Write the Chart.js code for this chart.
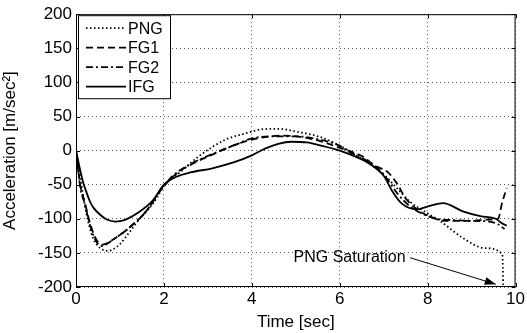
<!DOCTYPE html>
<html>
<head>
<meta charset="utf-8">
<script src="https://cdn.jsdelivr.net/npm/chart.js@4.4.1/dist/chart.umd.min.js"></script>
<style>
  html, body { margin: 0; background: #fff; }
</style>
</head>
<body>
<canvas id="accChart" width="527" height="333"></canvas>
<script>
/* ── Data ───────────────────────────────────────────────────── */
const tPNG = [0, 0.1, 0.2, 0.3, 0.4, 0.5, 0.6, 0.7, 0.8, 1.0, 1.2, 1.45, 1.65, 1.85, 2.0, 2.4, 2.8, 3.4, 3.9, 4.2, 4.6, 5.0, 5.5, 5.85, 6.15, 6.5, 7.0, 7.3, 7.6, 7.9, 8.3, 8.8, 9.3, 9.7, 9.72];
const png  = [0, -40, -80, -110, -130, -140, -145, -147, -146, -137, -121, -100, -86, -68, -52, -30, -8, 16, 26, 31, 32, 28, 21, 12, 2, -12, -35, -55, -75, -88, -104, -128, -143, -152, -200];

const tFG1 = [0, 0.1, 0.2, 0.3, 0.4, 0.5, 0.6, 0.7, 0.9, 1.1, 1.3, 1.5, 1.7, 1.9, 2.0, 2.3, 2.6, 3.1, 3.6, 4.0, 4.7, 5.0, 5.5, 6.0, 6.5, 6.8, 7.1, 7.3, 7.5, 7.8, 8.1, 8.4, 9.0, 9.4, 9.6, 9.7, 9.8];
const fg1  = [0, -52, -76, -102, -122, -134, -138, -136, -128, -119, -108, -96, -80, -60, -52, -33, -21, -6, 8, 16, 22, 21, 15, 4, -8, -22, -32, -48, -70, -88, -98, -103, -103, -101, -100, -75, -55];

const tFG2 = [0, 0.1, 0.2, 0.3, 0.4, 0.5, 0.6, 0.7, 0.9, 1.1, 1.3, 1.5, 1.7, 1.9, 2.0, 2.2, 2.6, 3.1, 3.65, 4.0, 4.6, 5.0, 5.55, 6.0, 6.25, 6.7, 7.0, 7.3, 7.6, 7.9, 8.2, 8.6, 9.0, 9.4, 9.6, 9.75];
const fg2  = [0, -55, -78, -105, -125, -137, -140, -137, -128, -119, -108, -96, -80, -60, -52, -37, -20, -5, 9, 18, 21, 21, 16, 7, -3, -18, -35, -62, -82, -93, -100, -102, -103, -104, -108, -115];

const tIFG = [0, 0.1, 0.16, 0.2, 0.32, 0.4, 0.55, 0.7, 0.9, 1.1, 1.39, 1.75, 2.0, 2.3, 2.6, 3.1, 3.6, 4.0, 4.3, 4.6, 4.9, 5.25, 5.6, 6.0, 6.25, 6.7, 7.0, 7.2, 7.4, 7.75, 8.05, 8.35, 8.8, 9.2, 9.55, 9.7, 9.8];
const ifg  = [0, -30, -46, -54, -75, -84, -94, -101, -104, -102, -92, -73, -50, -38, -32, -26, -17, -7, 3, 10, 13, 12, 7, 0, -6, -20, -37, -60, -77, -86, -81, -77, -89, -96, -100, -107, -110];

const xTicks = [0, 2, 4, 6, 8, 10];
const yTicks = [-200, -150, -100, -50, 0, 50, 100, 150, 200];

const FONT = '"Liberation Sans", Arial, sans-serif';

const pts = (ts, vs) => ts.map((t, i) => ({ x: t, y: vs[i] }));

/* ── Frame, inward ticks, legend, annotation ────────────────── */
const matlabLook = {
  id: 'matlabLook',
  afterDatasetsDraw(chart) {
    const { ctx, chartArea: a, scales: { x, y } } = chart;
    ctx.save();

    // frame
    ctx.strokeStyle = '#000';
    ctx.lineWidth = 1;
    ctx.setLineDash([]);
    ctx.strokeRect(a.left + 0.5, a.top + 0.5, a.right - a.left - 1, a.bottom - a.top - 1);

    // inward ticks
    ctx.beginPath();
    xTicks.forEach(v => {
      const px = Math.round(x.getPixelForValue(v)) + 0.5;
      ctx.moveTo(px, a.bottom); ctx.lineTo(px, a.bottom - 4);
      ctx.moveTo(px, a.top);    ctx.lineTo(px, a.top + 4);
    });
    yTicks.forEach(v => {
      const py = Math.round(y.getPixelForValue(v)) + 0.5;
      ctx.moveTo(a.left, py);  ctx.lineTo(a.left + 4, py);
      ctx.moveTo(a.right, py); ctx.lineTo(a.right - 4, py);
    });
    ctx.stroke();

    // annotation: "PNG Saturation" with arrow
    ctx.fillStyle = '#000';
    ctx.font = '16px ' + FONT;
    ctx.textBaseline = 'middle';
    ctx.textAlign = 'left';
    const tx = x.getPixelForValue(4.95), ty = y.getPixelForValue(-157);
    ctx.fillText('PNG Saturation', tx, ty);
    const x0 = x.getPixelForValue(7.6),  y0 = y.getPixelForValue(-157);
    const x1 = x.getPixelForValue(9.55), y1 = y.getPixelForValue(-196);
    ctx.lineWidth = 1;
    ctx.beginPath(); ctx.moveTo(x0, y0); ctx.lineTo(x1, y1); ctx.stroke();
    const ang = Math.atan2(y1 - y0, x1 - x0);
    ctx.beginPath();
    ctx.moveTo(x1, y1);
    ctx.lineTo(x1 - 11 * Math.cos(ang) + 4 * Math.sin(ang), y1 - 11 * Math.sin(ang) - 4 * Math.cos(ang));
    ctx.lineTo(x1 - 11 * Math.cos(ang) - 4 * Math.sin(ang), y1 - 11 * Math.sin(ang) + 4 * Math.cos(ang));
    ctx.closePath(); ctx.fill();

    // legend box
    const bx = a.left + 2, by = a.top + 1, bw = 92, bh = 83;
    ctx.fillStyle = '#fff';
    ctx.fillRect(bx, by, bw, bh);
    ctx.strokeStyle = '#000';
    ctx.strokeRect(bx + 0.5, by + 0.5, bw, bh);
    chart.data.datasets.forEach((ds, i) => {
      const ry = by + 13 + i * 19.5;
      ctx.strokeStyle = '#000';
      ctx.lineWidth = ds.borderWidth;
      ctx.setLineDash(ds.borderDash || []);
      ctx.beginPath(); ctx.moveTo(bx + 8, ry); ctx.lineTo(bx + 48, ry); ctx.stroke();
      ctx.setLineDash([]);
      ctx.fillStyle = '#000';
      ctx.fillText(ds.label, bx + 50, ry + 1);
    });

    ctx.restore();
  }
};

new Chart(document.getElementById('accChart'), {
  type: 'line',
  data: {
    datasets: [
      { label: 'PNG', data: pts(tPNG, png), borderDash: [1.5, 2.5] },
      { label: 'FG1', data: pts(tFG1, fg1), borderDash: [7, 4] },
      { label: 'FG2', data: pts(tFG2, fg2), borderDash: [7, 3, 2, 3] },
      { label: 'IFG', data: pts(tIFG, ifg), borderDash: [] },
    ].map(ds => ({
      ...ds,
      borderColor: '#000',
      borderWidth: 1.8,
      pointRadius: 0,
      tension: 0,
      cubicInterpolationMode: 'monotone',
      fill: false,
    })),
  },
  options: {
    responsive: false,
    animation: false,
    devicePixelRatio: 1,
    layout: { padding: { top: 10, right: 10, left: 0, bottom: 0 } },
    plugins: { legend: { display: false }, tooltip: { enabled: false } },
    scales: {
      x: {
        type: 'linear',
        min: 0, max: 10,
        afterBuildTicks: s => { s.ticks = xTicks.map(v => ({ value: v })); },
        afterFit: s => { s.height = 46; },
        grid: { color: '#555', lineWidth: 1, drawTicks: false },
        border: { display: false, dash: [1, 3] },
        ticks: { color: '#000', font: { family: FONT, size: 17 }, padding: 2, maxRotation: 0 },
        title: { display: true, text: 'Time [sec]', color: '#000', font: { family: FONT, size: 17 }, padding: { top: -2, bottom: 0 } },
      },
      y: {
        min: -200, max: 200,
        afterBuildTicks: s => { s.ticks = yTicks.map(v => ({ value: v })); },
        afterFit: s => { s.width = 76; },
        grid: { color: '#555', lineWidth: 1, drawTicks: false },
        border: { display: false, dash: [1, 3] },
        ticks: { color: '#000', font: { family: FONT, size: 17 }, padding: 4 },
        title: { display: true, text: 'Acceleration [m/sec²]', color: '#000', font: { family: FONT, size: 17 }, padding: { top: 0, bottom: 2 } },
      },
    },
  },
  plugins: [matlabLook],
});
</script>
</body>
</html>
